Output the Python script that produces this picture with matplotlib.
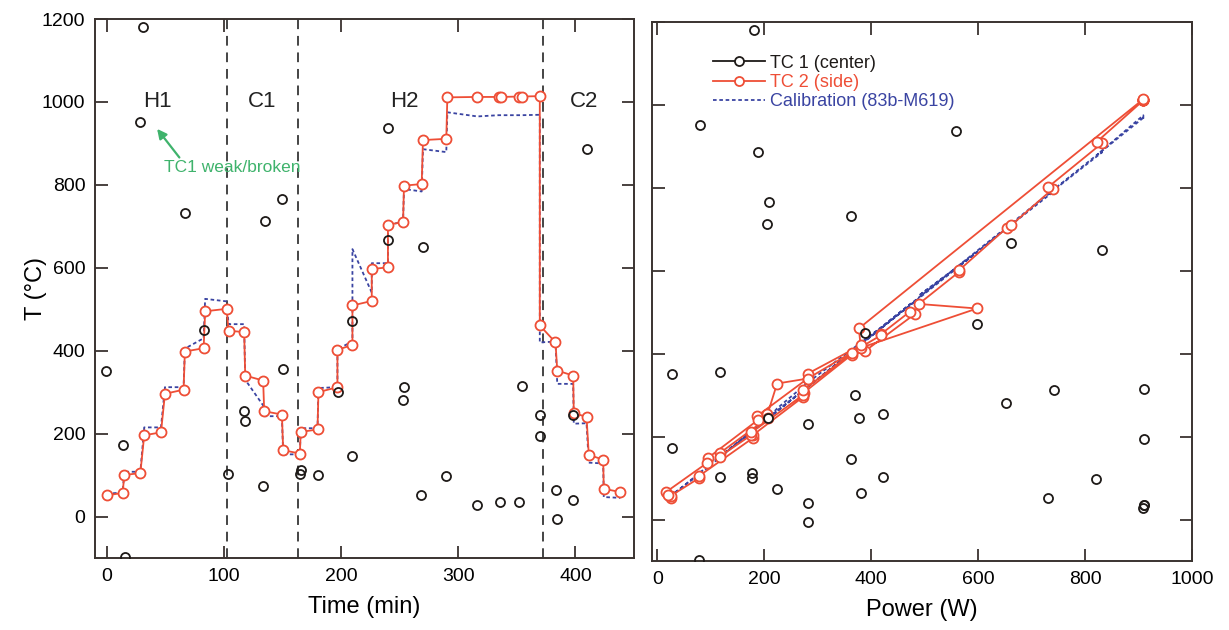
import matplotlib
matplotlib.use("Agg")
import matplotlib.pyplot as plt
from matplotlib.lines import Line2D

plt.rcParams['font.family'] = ['Liberation Sans', 'DejaVu Sans']

# ---------------- data ----------------
# TC2 (side) measurements: time (min), temperature (C), heater power (W)
tc2_time = [0, 13.6, 15, 28.7, 32, 46.3, 49.7, 65.6, 66.7, 82.7, 84, 102.3,
            104, 117.3, 118.2, 133.5, 134.4, 149.5, 150.6, 164.8,
            165.6, 179.9, 180.7, 196.9, 196.9, 209.7, 209.7, 226.2, 226.2, 240,
            240, 252.9, 253.7, 268.8, 269.9, 289.8, 290.7, 316.3, 334.4, 336.7,
            351.7, 354.6, 369.6,
            369.6, 383, 384.5, 398.1, 398.6, 409.5, 411.4, 423.7, 424.2, 438.4]
tc2_temp = [51, 57, 100, 105, 196, 203, 296, 306, 398, 406, 495, 501,
            448, 445, 340, 328, 254, 246, 160, 152,
            204, 210, 300, 312, 402, 414, 509, 520, 597, 601,
            704, 710, 798, 802, 908, 911, 1011, 1012, 1012, 1012,
            1013, 1013, 1014,
            461, 420, 352, 340, 250, 240, 149, 137, 67, 59]
tc2_power = [25, 25, 78, 78, 178, 178, 273, 274, 364, 388, 481, 472,
             419, 419, 281, 224, 206, 207.5, 116.5, 116.5,
             176, 176, 272, 273, 364, 380, 598, 489, 564, 564,
             654, 662, 740, 731, 832, 822, 909, 909, 909, 909,
             909, 909, 909,
             377, 380, 281.5, 281, 187, 188, 95, 93.5, 17, 19]
# calibration (83b-M619) temperature at the TC2 time/power points
cal_temp = [55, 58, 108, 108, 215, 215, 312, 312, 405, 430, 525, 519,
            464, 464, 330, 268, 242, 242, 150, 150,
            213, 213, 310, 312, 404, 422, 645, 540, 611, 611,
            703, 711, 790, 784, 886, 879, 975, 965, 968, 968,
            968, 968, 969,
            420, 422, 320, 320, 224, 225, 130, 128, 47, 45]

# TC1 (center) measurements: time (min), temperature (C), heater power (W)
tc1_time = [-0.6, 13.6, 15.6, 28.4, 31.2, 66.5, 82.7, 103.7, 116.8, 117.9,
            133.5, 134.7, 149.5, 150.6, 164.8, 165.6, 179.9, 197.4, 209.7, 209.7,
            240, 240, 252.9, 253.7, 268.5, 269.9, 289.3, 315.7, 335.6, 352.1,
            354.3, 369.4, 370.2, 383.6, 384.5, 398.1, 398.1, 409.5]
tc1_temp = [352, 172, -98, 952, 1181, 731, 451, 103, 254, 230,
            73, 713, 765, 357, 102, 112, 100, 300, 145, 472,
            937, 667, 282, 312, 51, 651, 97, 29, 35, 35,
            316, 194, 244, 63, -5, 246, 39, 887]
tc1_power = [26.7, 26.7, 77.8, 79, 180.6, 363, 388, 421.7, 421.7, 282,
             224, 205.6, 208.6, 116.5, 116.5, 177.5, 177.5, 370.6, 363, 598,
             559, 662, 653, 741, 731, 832, 821, 907.7, 909.6, 909.6,
             911, 909.6, 377, 380, 282, 207, 282, 188.8]

phase_bounds = [103, 163, 372]
phase_labels = ['H1', 'C1', 'H2', 'C2']
phase_label_x = [43, 133, 254, 407]

# ---------------- style ----------------
RED = '#ee4e36'
BLUE = '#3a44a2'
BLACK = '#1e1a18'
GREEN = '#3fb36c'
SPINE = '#3a3330'

fig = plt.figure(figsize=(12.29, 6.30), dpi=100)
axL = fig.add_axes([95/1229, 72/630, 539/1229, 539/630])
axR = fig.add_axes([652/1229, 69/630, 540/1229, 539/630])

def style(ax):
    for s in ax.spines.values():
        s.set_color(SPINE)
        s.set_linewidth(1.4)
    ax.tick_params(direction='in', length=9, width=1.3, color=SPINE,
                   top=True, right=True, labelsize=14, pad=7)
    ax.set_ylim(-100, 1200)
    ax.set_yticks([0, 200, 400, 600, 800, 1000, 1200])

# ---- left: time series ----
style(axL)
axL.set_xlim(-10, 450)
axL.set_xticks([0, 100, 200, 300, 400])
for xb in phase_bounds:
    axL.axvline(xb, color='#444444', lw=1.4, ls=(0, (5, 3.5)), zorder=1)
for lab, xl in zip(phase_labels, phase_label_x):
    axL.text(xl, 1000, lab, fontsize=16, ha='center', va='center', color='#222222')

axL.plot(tc2_time, cal_temp, color=BLUE, lw=1.3, ls=(0, (2, 1.5)), zorder=2)
axL.plot(tc2_time, tc2_temp, color=RED, lw=1.3, marker='o', ms=7.2,
         mfc='white', mec=RED, mew=1.3, zorder=3)
axL.plot(tc1_time, tc1_temp, ls='none', marker='o', ms=6.5, mfc='none',
         mec=BLACK, mew=1.3, zorder=4)

axL.annotate('', xy=(43, 935), xytext=(62, 866),
             arrowprops=dict(arrowstyle='-|>', color=GREEN, lw=1.6,
                             mutation_scale=14, shrinkA=0, shrinkB=0))
axL.text(49, 843, 'TC1 weak/broken', color=GREEN, fontsize=12.5,
         ha='left', va='center')

axL.set_xlabel('Time (min)', fontsize=17, labelpad=8)
axL.set_ylabel('T (°C)', fontsize=17, labelpad=-4)

# ---- right: temperature vs power ----
style(axR)
axR.set_xlim(-10, 1000)
axR.set_xticks([0, 200, 400, 600, 800, 1000])
axR.tick_params(labelleft=False)
axR.plot(tc2_power, cal_temp, color=BLUE, lw=1.3, ls=(0, (2, 1.5)), zorder=2)
axR.plot(tc2_power, tc2_temp, color=RED, lw=1.3, marker='o', ms=7.2,
         mfc='white', mec=RED, mew=1.3, zorder=3)
axR.plot(tc1_power, tc1_temp, ls='none', marker='o', ms=6.5, mfc='none',
         mec=BLACK, mew=1.3, zorder=4)
axR.set_xlabel('Power (W)', fontsize=17, labelpad=8)

handles = [
    Line2D([], [], color=BLACK, lw=1.3, marker='o', ms=6.5, mfc='white', mec=BLACK, mew=1.3),
    Line2D([], [], color=RED, lw=1.3, marker='o', ms=6.5, mfc='white', mec=RED, mew=1.3),
    Line2D([], [], color=BLUE, lw=1.3, ls=(0, (2, 1.5))),
]
leg = axR.legend(handles, ['TC 1 (center)', 'TC 2 (side)', 'Calibration (83b-M619)'],
                 loc='upper left', bbox_to_anchor=(0.10, 0.953), frameon=False,
                 fontsize=13, handlelength=2.85, handletextpad=0.3,
                 labelspacing=0.13, borderaxespad=0)
for txt, c in zip(leg.get_texts(), [BLACK, RED, BLUE]):
    txt.set_color(c)

fig.savefig('out.png', dpi=100)
